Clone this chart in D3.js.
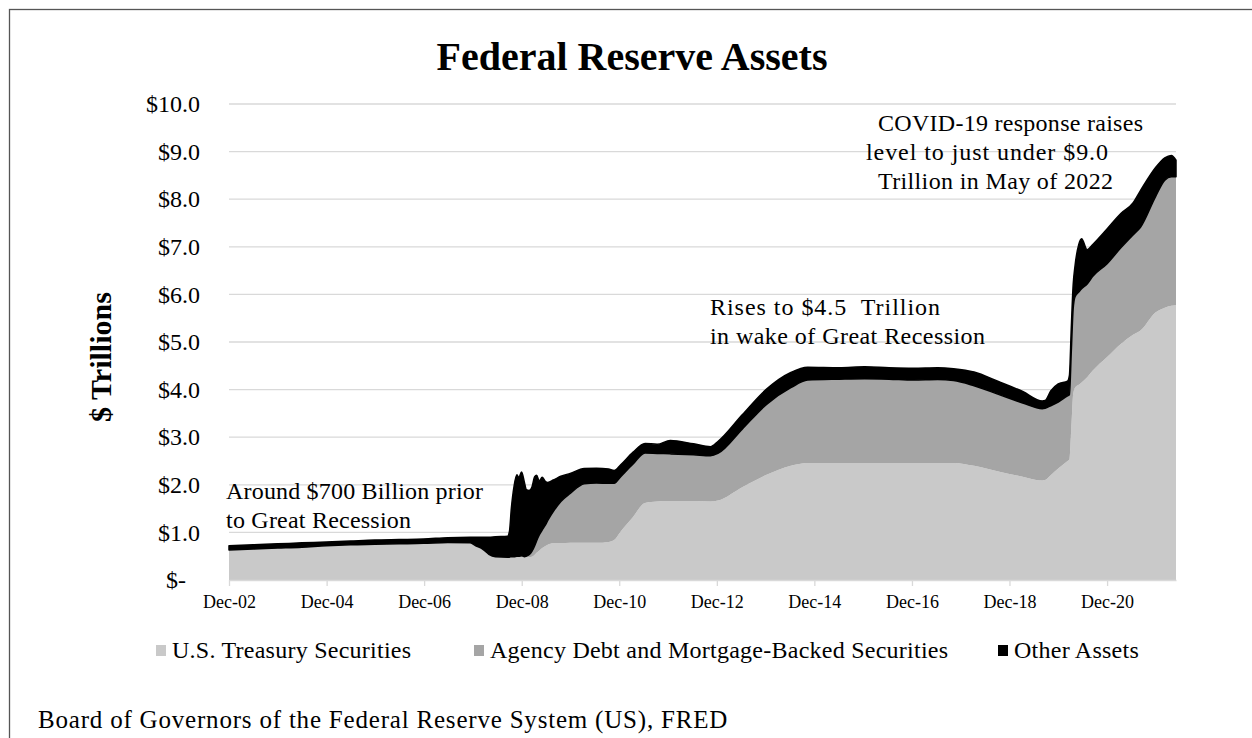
<!DOCTYPE html>
<html>
<head>
<meta charset="utf-8">
<script src="https://cdn.jsdelivr.net/npm/d3@7"></script>
<style>
  body { margin: 0; background: #fff; }
  svg text, svg tspan { font-family: "Liberation Serif", "Times New Roman", serif; fill: #000; }
</style>
</head>
<body>
<div id="chart"></div>
<script>
// weekly H.4.1 readings ($ trillions)
var dates = [
  "2002-12-18","2003-06-18","2003-12-17","2004-06-16","2004-12-15","2005-06-15","2005-12-14","2006-06-14",
  "2006-12-13","2007-06-13","2007-11-28","2008-01-09","2008-03-05","2008-04-16","2008-06-04","2008-09-03",
  "2008-09-17","2008-10-01","2008-10-22","2008-11-12","2008-11-26","2008-12-17","2009-01-07","2009-01-21",
  "2009-02-11","2009-03-04","2009-03-25","2009-04-08","2009-04-29","2009-05-20","2009-06-10","2009-07-01",
  "2009-08-12","2009-10-07","2009-12-16","2010-03-31","2010-06-30","2010-09-29","2010-11-10","2010-12-29",
  "2011-03-30","2011-06-29","2011-09-28","2012-01-04","2012-06-27","2012-10-31","2012-12-26","2013-06-26",
  "2013-12-25","2014-06-25","2014-10-29","2015-06-24","2015-12-30","2016-06-29","2016-12-28","2017-06-28",
  "2017-10-25","2018-03-28","2018-09-26","2019-03-27","2019-08-21","2019-09-11","2019-10-23","2019-12-18",
  "2020-02-26","2020-03-11","2020-03-25","2020-04-08","2020-04-22","2020-05-20","2020-06-10","2020-07-22",
  "2020-09-02","2020-12-16","2021-03-31","2021-06-30","2021-08-25","2021-12-15","2022-02-23","2022-04-13",
  "2022-05-18"
];
var treasury = [
  0.63,0.65,0.67,0.69,0.72,0.74,0.75,0.76,
  0.77,0.79,0.78,0.72,0.64,0.54,0.49,0.48,
  0.48,0.48,0.48,0.48,0.48,0.48,0.48,0.48,
  0.48,0.49,0.53,0.57,0.62,0.67,0.71,0.74,
  0.77,0.77,0.78,0.78,0.78,0.80,0.84,1.02,
  1.32,1.62,1.65,1.66,1.66,1.65,1.67,1.95,
  2.21,2.40,2.46,2.46,2.46,2.46,2.46,2.46,
  2.46,2.40,2.28,2.17,2.09,2.10,2.20,2.34,
  2.50,2.53,3.20,3.90,4.04,4.10,4.15,4.26,
  4.40,4.68,4.96,5.15,5.24,5.62,5.72,5.76,
  5.77
];
var agencyMbs = [
  0,0,0,0,0,0,0,0,
  0,0,0,0,0,0,0,0,
  0,0.01,0.01,0.02,0.02,0.03,0.01,0.02,
  0.05,0.11,0.19,0.25,0.33,0.38,0.43,0.51,
  0.67,0.88,1.04,1.24,1.26,1.23,1.19,1.15,
  1.11,1.05,1.01,0.99,0.97,0.96,0.99,1.22,
  1.48,1.64,1.74,1.76,1.77,1.76,1.74,1.75,
  1.73,1.68,1.62,1.55,1.51,1.51,1.46,1.40,
  1.37,1.36,1.60,1.80,1.91,1.95,1.97,1.96,
  1.98,1.96,2.02,2.10,2.17,2.43,2.68,2.71,
  2.70
];
var otherAssets = [
  0.09,0.09,0.09,0.09,0.08,0.08,0.09,0.09,
  0.09,0.10,0.12,0.18,0.26,0.36,0.42,0.44,
  0.54,1.01,1.49,1.71,1.65,1.76,1.56,1.40,
  1.35,1.35,1.45,1.38,1.13,1.11,0.94,0.80,
  0.66,0.53,0.42,0.32,0.31,0.30,0.27,0.25,
  0.25,0.20,0.19,0.28,0.23,0.19,0.25,0.30,
  0.32,0.32,0.27,0.24,0.25,0.24,0.25,0.25,
  0.25,0.29,0.27,0.24,0.16,0.16,0.31,0.38,
  0.31,0.41,0.50,0.50,0.65,1.00,1.05,0.72,
  0.67,0.73,0.72,0.67,0.77,0.61,0.47,0.45,
  0.35
];
var seriesKeys = ["treasury", "agencyMbs", "otherAssets"];
var seriesNames = ["U.S. Treasury Securities", "Agency Debt and Mortgage-Backed Securities", "Other Assets"];
var tickDates = ["2002-12-18","2004-12-18","2006-12-18","2008-12-18","2010-12-18",
                 "2012-12-18","2014-12-18","2016-12-18","2018-12-18","2020-12-18"];
var yTicks = [0,1,2,3,4,5,6,7,8,9,10];

var W = 1252, H = 738;
var margin = {top: 104, right: 76, bottom: 158, left: 229};
var plotW = W - margin.left - margin.right,
    plotH = H - margin.top - margin.bottom;
var serif = "Liberation Serif, Times New Roman, serif";

var parse = d3.timeParse("%Y-%m-%d");
var rows = dates.map(function(d, i) {
  return {date: parse(d), treasury: treasury[i], agencyMbs: agencyMbs[i], otherAssets: otherAssets[i]};
});

var color = d3.scaleOrdinal().domain(seriesKeys).range(["#c9c9c9", "#a5a5a5", "#000000"]);

var svg = d3.select("#chart").append("svg")
  .attr("width", W).attr("height", H);

svg.append("rect").attr("width", W).attr("height", H).attr("fill", "#fff");
// outer frame (open at right/bottom, cut off by the picture)
svg.append("rect")
  .attr("x", 9.5).attr("y", 9.5).attr("width", 1400).attr("height", 900)
  .attr("fill", "none").attr("stroke", "#555").attr("stroke-width", 1.3);

var g = svg.append("g").attr("transform", "translate(" + margin.left + "," + margin.top + ")");

var x = d3.scaleTime()
  .domain([parse(dates[0]), parse(dates[dates.length - 1])])
  .range([0, plotW]);
var y = d3.scaleLinear().domain([0, 10]).range([plotH, 0]);

// gridlines
g.append("g").selectAll("line").data(yTicks.filter(function(d){ return d > 0; })).enter()
  .append("line")
    .attr("x1", 0).attr("x2", plotW)
    .attr("y1", function(d){ return y(d); }).attr("y2", function(d){ return y(d); })
    .attr("stroke", "#d9d9d9").attr("stroke-width", 1.3);

// stacked areas
var stacked = d3.stack().keys(seriesKeys)(rows);
var area = d3.area()
  .curve(d3.curveMonotoneX)
  .x(function(d){ return x(d.data.date); })
  .y0(function(d){ return y(d[0]); })
  .y1(function(d){ return y(d[1]); });

g.selectAll("myAreas").data(stacked).enter()
  .append("path")
    .attr("d", area)
    .attr("fill", function(d){ return color(d.key); })
    .attr("stroke", function(d){ return d.key == "otherAssets" ? "#000" : "none"; })
    .attr("stroke-width", 1.5)
    .attr("stroke-linejoin", "round");

// x axis
var xAxis = g.append("g")
  .attr("transform", "translate(0," + plotH + ")")
  .call(d3.axisBottom(x)
    .tickValues(tickDates.map(parse))
    .tickFormat(d3.timeFormat("%b-%y"))
    .tickSizeInner(6).tickSizeOuter(0).tickPadding(9));
xAxis.select(".domain").attr("stroke", "#d9d9d9").attr("stroke-width", 1.3);
xAxis.selectAll(".tick line").attr("stroke", "#d9d9d9").attr("stroke-width", 1.3);
xAxis.selectAll("text").style("font-size", "18px").style("font-family", serif);

// y axis
var yAxis = g.append("g")
  .call(d3.axisLeft(y)
    .tickValues(yTicks)
    .tickFormat(function(d){ return d == 0 ? "$-" : "$" + d3.format(".1f")(d); })
    .tickSize(0).tickPadding(29));
yAxis.select(".domain").remove();
yAxis.selectAll("text").style("font-size", "24px").style("font-family", serif)
  .attr("dx", function(d){ return d == 0 ? -14 : 0; });

// title + axis title
svg.append("text")
  .attr("x", 632).attr("y", 70).attr("text-anchor", "middle")
  .style("font-family", serif).style("font-size", "40px").style("font-weight", "bold")
  .text("Federal Reserve Assets");

svg.append("text")
  .attr("transform", "translate(111,357) rotate(-90)")
  .attr("text-anchor", "middle")
  .style("font-family", serif).style("font-size", "30px").style("font-weight", "bold")
  .text("$ Trillions");

// annotations: [text, x, baseline, width in the picture]
function note(lines) {
  lines.forEach(function(l) {
    svg.append("text")
      .attr("x", l[1]).attr("y", l[2])
      .attr("textLength", l[3]).attr("lengthAdjust", "spacing")
      .style("font-family", serif).style("font-size", "24px").style("white-space", "pre")
      .text(l[0]);
  });
}
note([["Around $700 Billion prior", 226, 499, 257],
      ["to Great Recession", 226, 528, 185]]);
note([["Rises to $4.5  Trillion", 710, 315, 230],
      ["in wake of Great Recession", 710, 344, 275]]);
note([["COVID-19 response raises", 878, 131, 265],
      ["level to just under $9.0", 866, 160, 242],
      ["Trillion in May of 2022", 878, 189, 235]]);

// legend
var legendX = [156, 474, 998];
var legend = svg.selectAll("myLegend").data(seriesKeys).enter()
  .append("g")
    .attr("transform", function(d, i){ return "translate(" + legendX[i] + ",651)"; });
legend.append("rect")
  .attr("x", 0).attr("y", -6).attr("width", 10).attr("height", 11)
  .attr("fill", function(d){ return color(d); });
legend.append("text")
  .attr("x", 16).attr("y", 7)
  .style("font-family", serif).style("font-size", "24px").style("letter-spacing", "0.25px")
  .text(function(d, i){ return seriesNames[i]; });

// source
svg.append("text")
  .attr("x", 38).attr("y", 728)
  .style("font-family", serif).style("font-size", "25px").style("letter-spacing", "0.8px")
  .text("Board of Governors of the Federal Reserve System (US), FRED");
</script>
</body>
</html>
